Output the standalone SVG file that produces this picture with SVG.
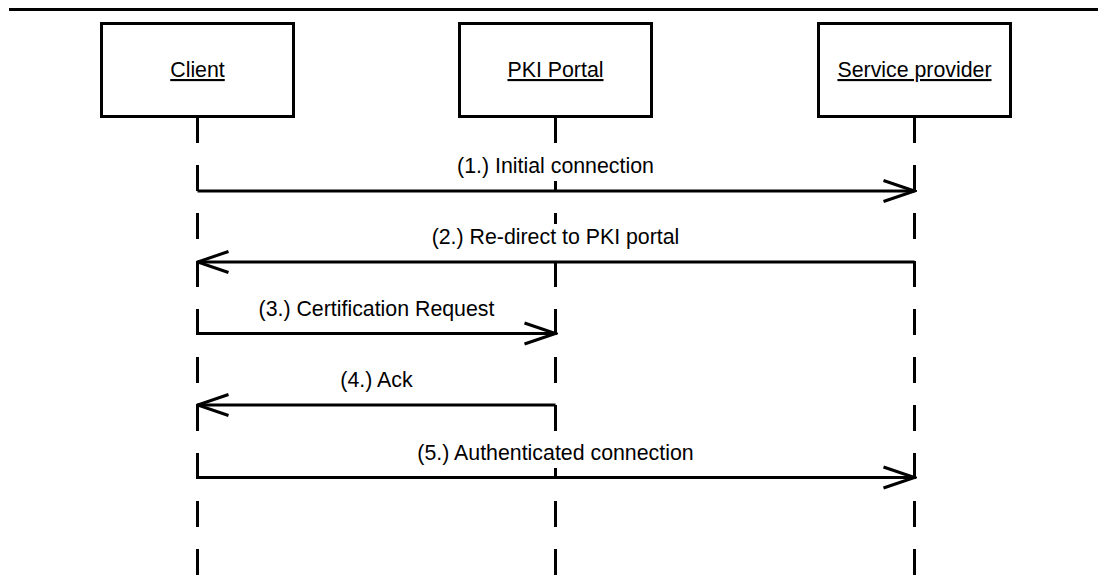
<svg xmlns="http://www.w3.org/2000/svg" width="1098" height="579" viewBox="0 0 1098 579">
<style>
.box{fill:#fff;stroke:#000;stroke-width:3}
.name{font-family:"Liberation Sans",Arial,sans-serif;font-size:21.33px;fill:#000;text-anchor:middle;text-decoration:underline}
.life{stroke:#000;stroke-width:3;stroke-dasharray:26 22;fill:none}
.msg{stroke:#000;stroke-width:3;fill:none}
.lbl{font-family:"Liberation Sans",Arial,sans-serif;font-size:21.33px;fill:#000;text-anchor:middle}
.bg{fill:#fff}
</style>
<defs>
<marker id="open" viewBox="0 0 34 26" refX="32" refY="13" markerWidth="34" markerHeight="26" markerUnits="userSpaceOnUse" orient="auto">
<path d="M1,2.5 L32,13 L1,23.5" fill="none" stroke="#000" stroke-width="3"/>
</marker>
</defs>
<line x1="9" y1="9.5" x2="1098" y2="9.5" stroke="#000" stroke-width="3"/>
<g id="lifelines">
<line class="life" x1="197.5" y1="117" x2="197.5" y2="579"/>
<line class="life" x1="555.5" y1="117" x2="555.5" y2="579"/>
<line class="life" x1="914.5" y1="117" x2="914.5" y2="579"/>
</g>
<g id="client"><rect class="box" x="101.5" y="23.5" width="192" height="93"/><text class="name" x="197.5" y="77">Client</text></g>
<g id="pki-portal"><rect class="box" x="459.5" y="23.5" width="192" height="93"/><text class="name" x="555.5" y="77">PKI Portal</text></g>
<g id="service-provider"><rect class="box" x="818.5" y="23.5" width="192" height="93"/><text class="name" x="914.5" y="77">Service provider</text></g>
<g id="connectors">
<line class="msg" x1="197.5" y1="191" x2="914.5" y2="191" marker-end="url(#open)"/>
<rect class="bg" x="455" y="153" width="201" height="28"/>
<text class="lbl" x="555.5" y="173">(1.) Initial connection</text>
<line class="msg" x1="914.5" y1="262" x2="197.5" y2="262" marker-end="url(#open)"/>
<rect class="bg" x="430" y="224" width="252" height="28"/>
<text class="lbl" x="555.5" y="244">(2.) Re-direct to PKI portal</text>
<line class="msg" x1="197.5" y1="333.5" x2="555.5" y2="333.5" marker-end="url(#open)"/>
<text class="lbl" x="376.5" y="315.5">(3.) Certification Request</text>
<line class="msg" x1="555.5" y1="405" x2="197.5" y2="405" marker-end="url(#open)"/>
<text class="lbl" x="376.5" y="387">(4.) Ack</text>
<line class="msg" x1="197.5" y1="477.5" x2="914.5" y2="477.5" marker-end="url(#open)"/>
<rect class="bg" x="415" y="440" width="281" height="28"/>
<text class="lbl" x="555.5" y="460">(5.) Authenticated connection</text>
</g>
</svg>
